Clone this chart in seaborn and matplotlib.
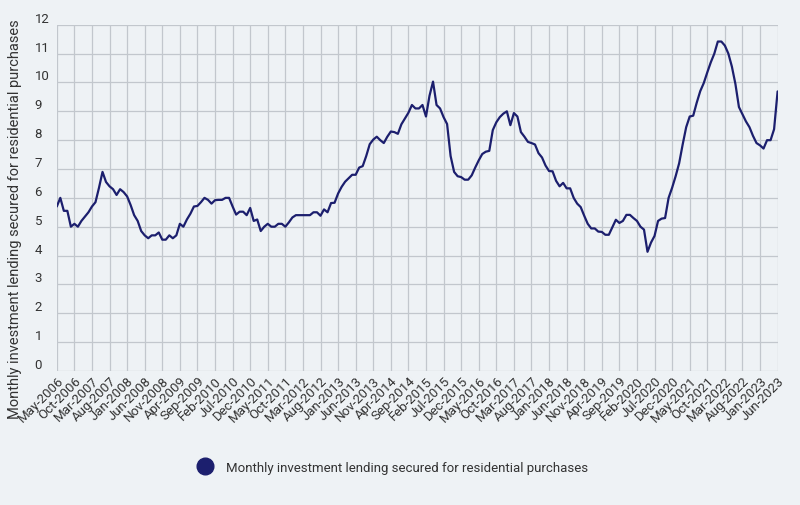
import numpy as np
import pandas as pd
import seaborn as sns
import matplotlib.pyplot as plt
from matplotlib.lines import Line2D

SERIES_NAME = "Monthly investment lending secured for residential purchases"

# monthly values, May-2006 .. Jun-2023
values = [
    5.70, 6.00, 5.55, 5.55, 5.00, 5.10, 5.00, 5.20, 5.35, 5.50,
    5.70, 5.85, 6.35, 6.90, 6.55, 6.40, 6.30, 6.10, 6.30, 6.20,
    6.05, 5.75, 5.40, 5.20, 4.85, 4.70, 4.60, 4.70, 4.70, 4.80,
    4.55, 4.55, 4.70, 4.60, 4.70, 5.10, 5.00, 5.25, 5.45, 5.70,
    5.72, 5.85, 6.00, 5.93, 5.80, 5.92, 5.93, 5.93, 6.00, 6.00,
    5.70, 5.42, 5.52, 5.52, 5.40, 5.65, 5.20, 5.25, 4.85, 5.00,
    5.10, 5.00, 5.00, 5.10, 5.10, 5.00, 5.15, 5.32, 5.40, 5.40,
    5.40, 5.40, 5.40, 5.50, 5.50, 5.38, 5.60, 5.50, 5.82, 5.83,
    6.15, 6.38, 6.56, 6.68, 6.80, 6.80, 7.05, 7.10, 7.45, 7.86,
    8.02, 8.12, 8.00, 7.90, 8.12, 8.30, 8.28, 8.22, 8.55, 8.75,
    8.95, 9.22, 9.10, 9.10, 9.22, 8.82, 9.54, 10.03, 9.22, 9.10,
    8.80, 8.56, 7.45, 6.90, 6.75, 6.72, 6.63, 6.63, 6.78, 7.05,
    7.30, 7.52, 7.60, 7.63, 8.35, 8.62, 8.80, 8.92, 9.00, 8.52,
    8.94, 8.82, 8.28, 8.12, 7.94, 7.90, 7.85, 7.55, 7.40, 7.12,
    6.93, 6.92, 6.59, 6.40, 6.52, 6.33, 6.33, 6.00, 5.80, 5.68,
    5.38, 5.10, 4.94, 4.94, 4.83, 4.82, 4.72, 4.72, 4.98, 5.24,
    5.13, 5.20, 5.41, 5.41, 5.30, 5.20, 5.00, 4.90, 4.13, 4.45,
    4.68, 5.20, 5.28, 5.30, 6.00, 6.35, 6.75, 7.20, 7.85, 8.45,
    8.82, 8.85, 9.30, 9.70, 9.98, 10.35, 10.70, 11.00, 11.42, 11.42,
    11.28, 11.00, 10.55, 9.95, 9.15, 8.90, 8.65, 8.45, 8.15, 7.90,
    7.82, 7.71, 8.00, 8.00, 8.38, 9.69,
]
months = pd.date_range("2006-05-01", periods=len(values), freq="MS").strftime("%b-%Y").tolist()
yticks = list(range(0, 13))

bg = "#eef2f5"
navy = "#1c1f6e"

sns.set_theme(style="whitegrid")
plt.rcParams["font.family"] = ["Roboto", "DejaVu Sans"]

df = pd.DataFrame({"idx": np.arange(len(values)), "month": months, "value": values})

fig = plt.figure(figsize=(8, 5.06), dpi=100, facecolor=bg)
ax = fig.add_axes([0.071, 0.265, 0.901, 0.684])
ax.set_facecolor(bg)

sns.lineplot(data=df, x="idx", y="value", color=navy, linewidth=1.6, ax=ax, legend=False)

ax.set_xlim(0, len(values) - 1)
ax.set_ylim(0, 12)
tick_pos = df["idx"].iloc[::5]
ax.set_xticks(tick_pos)
ax.set_xticklabels(df["month"].iloc[::5], rotation=45, ha="right", rotation_mode="anchor",
                   fontsize=9.5, color="#333333")
ax.set_yticks(yticks)
ax.set_yticklabels([str(t) for t in yticks], fontsize=9.5, color="#333333")
for lab in ax.get_yticklabels():
    lab.set_horizontalalignment("left")
    lab.set_verticalalignment("bottom")
ax.tick_params(axis="y", length=0, pad=16)
ax.tick_params(axis="x", length=0, pad=2)
ax.grid(True, color="#c2c7cd", linewidth=0.9)
for s in ax.spines.values():
    s.set_visible(False)
ax.set_xlabel("")
ax.set_ylabel("")

fig.text(0.019, 0.567, SERIES_NAME, rotation=90, ha="center", va="center",
         fontsize=10.5, color="#333333")

handle = Line2D([], [], linestyle="none", marker="o", markersize=12,
                markerfacecolor=navy, markeredgecolor=navy)
fig.legend([handle], [SERIES_NAME], loc="center", bbox_to_anchor=(0.488, 0.075),
           frameon=False, fontsize=9.5, handletextpad=0.6, labelcolor="#333333")

fig.savefig("out.png", dpi=100, facecolor=bg)
